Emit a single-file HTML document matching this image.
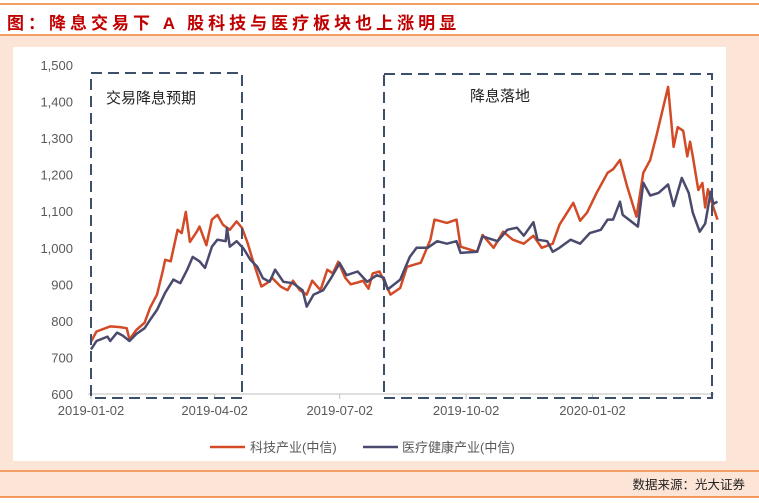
<!DOCTYPE html>
<html><head><meta charset="utf-8"><style>
body{margin:0;width:759px;height:503px;background:#fff;font-family:"Liberation Sans","Noto Sans CJK SC",sans-serif;overflow:hidden;position:relative}
</style></head><body>
<svg width="759" height="503" style="position:absolute;left:0;top:0">
<line x1="0" y1="4" x2="759" y2="4" stroke="#ed7d31" stroke-width="1.5"/>
<text x="7" y="29" font-size="17" font-weight="bold" letter-spacing="4" fill="#c00000" font-family="Liberation Sans,Noto Sans CJK SC,sans-serif">图：降息交易下  A  股科技与医疗板块也上涨明显</text>
<line x1="0" y1="35" x2="759" y2="35" stroke="#ed7d31" stroke-width="1.5"/>
<rect x="0" y="36" width="759" height="434" fill="#fce4d6"/>
<rect x="13" y="47" width="713" height="414" fill="#fff"/>
<line x1="0" y1="471" x2="759" y2="471" stroke="#ed7d31" stroke-width="1.5"/>
<rect x="0" y="472" width="759" height="25" fill="#fce4d6"/>
<line x1="0" y1="497" x2="759" y2="497" stroke="#ed7d31" stroke-width="1.5"/>
<text x="745" y="489" font-size="12.5" text-anchor="end" fill="#222">数据来源：光大证券</text>
<g id="axes"></g>
<g id="lines"></g>
<rect x="91" y="73" width="151" height="325" fill="none" stroke="#3d4f6b" stroke-width="2" stroke-dasharray="11,6"/>
<text x="106" y="103" font-size="15" fill="#222">交易降息预期</text>
<rect x="384" y="74" width="328" height="324" fill="none" stroke="#3d4f6b" stroke-width="2" stroke-dasharray="11,6"/>
<text x="470" y="101" font-size="15" fill="#222">降息落地</text>
<line x1="210" y1="447" x2="245" y2="447" stroke="#d24a26" stroke-width="2.5"/>
<text x="250" y="452" font-size="13" fill="#595959">科技产业(中信)</text>
<line x1="363" y1="447" x2="398" y2="447" stroke="#4a4a6e" stroke-width="2.5"/>
<text x="402" y="452" font-size="13" fill="#595959">医疗健康产业(中信)</text>
</svg>
<script>
const yTicks=[600,700,800,900,1000,1100,1200,1300,1400,1500];
const xTickDays=[0,90,181,273,365];
const xTickLabels=["2019-01-02","2019-04-02","2019-07-02","2019-10-02","2020-01-02"];
const techDays=[0,4,14,21,26,28,33,39,43,48,52,54,58,63,66,69,72,77,79,84,88,92,96,101,106,110,114,118,124,128,132,138,143,147,152,157,161,167,172,176,180,185,189,194,198,202,205,210,218,225,230,240,247,250,259,266,269,281,285,293,300,307,315,322,328,336,341,351,356,361,368,376,380,385,390,397,402,407,412,416,420,424,427,431,434,436,438,442,445,447,449,453,456];
const techValues=[743,771,785,783,780,749,775,795,836,872,932,967,963,1049,1040,1098,1016,1044,1058,1007,1077,1090,1063,1049,1072,1054,1013,963,894,903,917,894,884,910,884,872,910,884,940,930,962,918,900,905,910,888,930,935,872,890,948,959,1022,1077,1068,1077,1003,989,1035,1000,1044,1022,1011,1033,1000,1011,1063,1123,1074,1096,1150,1205,1215,1240,1170,1085,1205,1240,1314,1377,1440,1276,1330,1320,1250,1290,1250,1158,1177,1110,1160,1110,1077];
const healthDays=[0,4,12,14,19,23,28,33,39,43,48,54,60,65,70,74,79,83,88,92,98,99,101,106,111,116,121,125,130,134,140,147,154,157,162,169,174,181,186,194,201,208,213,216,225,232,237,245,252,259,266,269,281,285,296,303,310,315,322,325,332,336,341,349,356,363,371,376,380,385,387,398,402,407,413,420,424,430,435,438,443,447,451,453,456];
const healthValues=[722,745,757,745,768,760,745,764,780,803,830,877,913,903,940,975,963,945,1003,1022,1018,1054,1003,1018,998,967,948,917,907,940,907,903,884,839,872,884,913,958,925,935,907,925,918,886,913,975,1000,1000,1018,1011,1018,986,989,1031,1018,1049,1055,1033,1070,1022,1018,989,1000,1022,1011,1040,1049,1077,1077,1126,1090,1058,1178,1143,1150,1173,1114,1191,1150,1096,1044,1066,1153,1120,1126];
const NS="http://www.w3.org/2000/svg";
const xS=d=>91+d*1.374;
const yS=v=>394-(v-600)*0.3656;
const axes=document.getElementById('axes');
function mk(tag,attrs,parent){const e=document.createElementNS(NS,tag);for(const k in attrs)e.setAttribute(k,attrs[k]);parent.appendChild(e);return e;}
const base=mk('line',{x1:88,y1:394,x2:714,y2:394,stroke:'#bfbfbf','stroke-width':1},axes);


yTicks.forEach(v=>{const t=mk('text',{x:73,y:yS(v)+5,'font-size':13,'text-anchor':'end',fill:'#595959'},axes);t.textContent=v.toLocaleString('en-US');

});
xTickDays.forEach((d,i)=>{const l=mk('line',{x1:xS(d),y1:394,x2:xS(d),y2:399,stroke:'#bfbfbf'},axes);


const t=mk('text',{x:xS(d),y:415,'font-size':13,'text-anchor':'middle',fill:'#595959'},axes);t.textContent=xTickLabels[i];

});
const lines=document.getElementById('lines');
function pts(ds,vs){return ds.map((d,i)=>xS(d).toFixed(1)+','+yS(vs[i]).toFixed(1)).join(' ');}
const p1=mk('polyline',{points:pts(techDays,techValues),fill:'none',stroke:'#d24a26','stroke-width':2.5,'stroke-linejoin':'round'},lines);


const p2=mk('polyline',{points:pts(healthDays,healthValues),fill:'none',stroke:'#4a4a6e','stroke-width':2.5,'stroke-linejoin':'round'},lines);


</script>
</body></html>
